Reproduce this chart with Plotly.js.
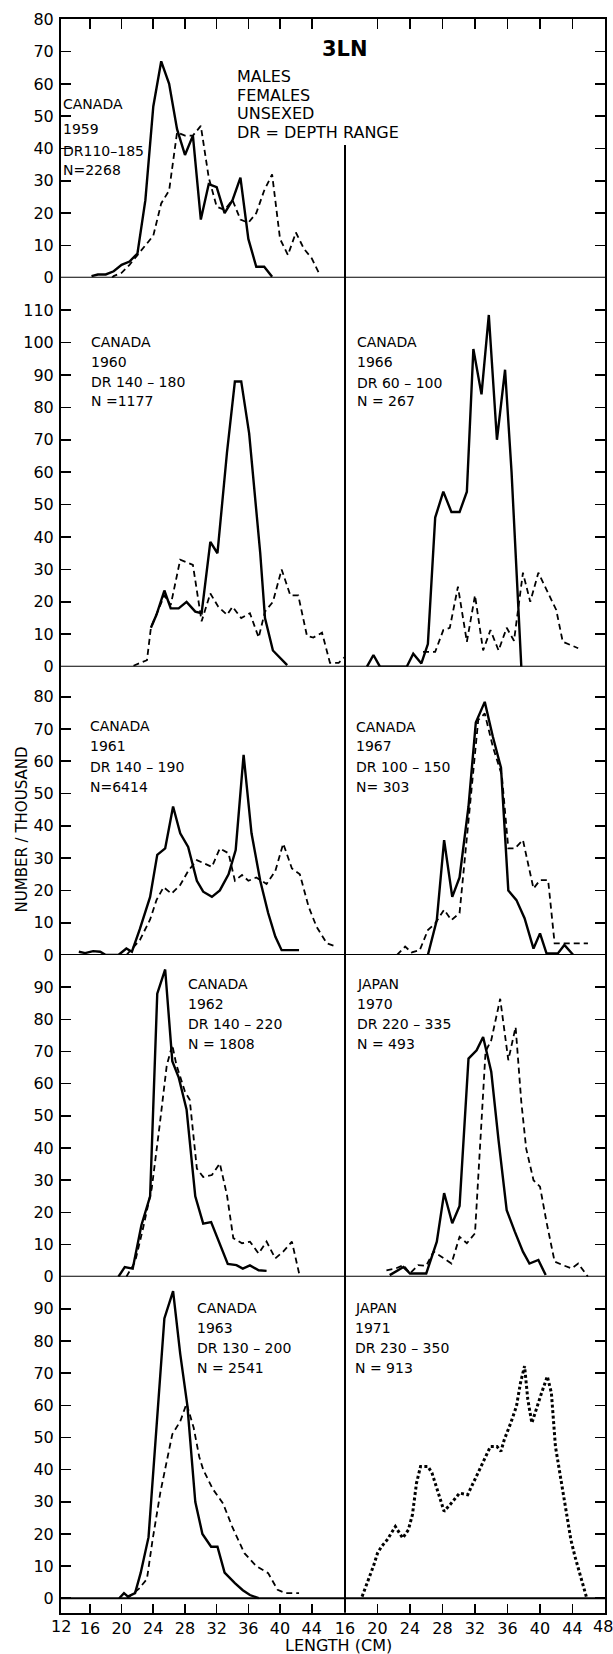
<!DOCTYPE html>
<html><head><meta charset="utf-8">
<script src="https://cdn.plot.ly/plotly-3.0.1.min.js"></script>
<style>html,body{margin:0;padding:0;background:#fff}#chart{width:613px;height:1654px}</style>
</head><body><div id="chart"></div>
<script>
// ---------- DATA (length in cm, number per thousand) ----------
// 1959 Canada (left, row 1)
const L_1959_m = [16.2,17,18,19,20,21,22,23,24,25,26,27,28,29,30,31,32,33,34,35,36,37,38,39];
const N_1959_m = [0.5,1,1,2,4,5,7.5,24,53,67,60,46,38,44,18,29,28,20,24,31,12,3.4,3.4,0.3];
const L_1959_f = [18.8,19,20,21,22,23,24,25,26,27,28,29,30,31,32,33,34,35,36,37,38,39,40,41,42,43,44,45];
const N_1959_f = [0,0.5,1.5,4,7,10,13,23,27,45,44,44,47,31,22,21,24,18,17,20,27,32,12,7,14,9,6,1];
// 1960 Canada (left, row 2)
const L_1960_m = [23.7,24.4,25.4,26.2,27.2,28.2,29.3,30.1,31.2,32.1,33.3,34.3,35.1,36.1,37.5,38.1,39.1,40.9];
const N_1960_m = [12,16,23.5,18,18,20,17,16.5,38.5,35,66,88,88,72,35,15,5,0.5];
const L_1960_f = [21.5,23.2,23.7,24.4,25.4,26.2,27.4,29,30.1,31.2,32.2,33.3,34,35.1,36.2,37.3,38.1,39.1,40.2,41.3,42.3,43.4,44.2,45.3,46.3,47.4,48.2];
const N_1960_f = [0.3,2,12,16,22,19,33,31.4,14,22.6,18.5,16,18.5,15,16.5,9,17,20,30,22,22,9.5,9,10.5,1.2,1.2,3];
// 1966 Canada (right, row 2)
const L_1966_m = [18.7,19.5,20.3,23.6,24.4,25.4,26.2,27.1,28.1,29.1,30.1,31,31.8,32.8,33.7,34.7,35.7,36.5,37.7];
const N_1966_m = [0,3.6,0,0,4,1,7,46,54,47.7,47.7,54,98,84,108.5,70,91.6,60,0];
const L_1966_f = [25.6,27.1,28.1,28.9,29.9,31,32,33,33.9,34.9,35.9,36.8,37.9,38.8,39.8,40.8,42,42.8,44.7];
const N_1966_f = [4.6,4.6,11.3,12,24.7,7.7,22,5,11.3,5,12,8,29,20,29,23.7,17.5,7.7,5.7];
// 1961 Canada (left, row 3)
const L_1961_m = [14.6,15.4,16.4,17.3,18,19.6,20.6,21.3,22.3,23.6,24.5,25.5,26.5,27.4,28.4,29.5,30.3,31.4,32.4,33.5,34.4,35.4,36.4,37.5,38.5,39.4,40.2,42.4];
const N_1961_m = [1,0.6,1.2,1,0,0,2,1,8,18,31,33,46,37.7,33.5,23,19.6,18,20,25,32.5,62,37.7,23,13,5.7,1.5,1.5];
const L_1961_f = [20.6,22.3,23.6,24.4,25.3,26.3,27.4,28.4,29.5,31.4,32.4,33.5,34.3,35.2,36,37,38.3,39.4,40.4,41.5,42.5,43.6,44.6,45.9,47.1];
const N_1961_f = [0,4.6,11,17,21,19,21.7,26,29.4,27.3,33,31.5,23,24.8,23,24,22,26,34.5,26.8,25,15,8.8,3.6,2.6];
// 1967 Canada (right, row 3)
const L_1967_m = [26.2,27.3,28.2,29.2,30.1,31.2,32.1,33.2,34.2,35.2,36.1,37.1,38.1,39.2,40,40.8,42.2,43,44.1];
const N_1967_m = [0,10.8,35.6,18,24,46,72,78.4,67.6,58,20,17,11.4,2,6.7,0.5,0.5,3.1,0];
const L_1967_f = [22.4,23.4,24.2,25.2,26.2,27.1,28.2,29.1,30.1,31.2,32.4,33.2,34.2,35.3,36.1,36.9,37.9,39.2,40,41,41.8,45.9];
const N_1967_f = [0,2.6,0.8,1.5,7.7,9.8,14,10.8,13,40.8,72.8,74.8,64.5,55.7,33,33,35.6,20.6,23.2,23.2,3.6,3.6];
// 1962 Canada (left, row 4)
const L_1962_m = [19.6,20.4,21.4,22.5,23.6,24.5,25.5,26.4,27.2,28.2,29.3,30.3,31.3,32.4,33.4,34.5,35.3,36.2,37.3,38.3];
const N_1962_m = [0,3,2.5,16,25,88,95.5,67,62,52,25,16.5,17,10,4,3.6,2.5,3.5,2,1.8];
const L_1962_f = [20.6,21.7,22.7,23.8,24.8,25.7,26.4,26.9,28,28.6,29.5,30.3,31.4,32.4,33.3,34.1,35.2,36.2,37.3,38.3,39.4,40.4,41.5,42.5];
const N_1962_f = [0,4.6,15,27.4,47,65.7,72,66,57.5,55,33.6,31,31.6,35.2,25.4,12,10.4,10.9,7.2,10.9,5.7,7.8,10.9,0];
// 1970 Japan (right, row 4)
const L_1970_m = [21.5,23.2,24,26,27.3,28.2,29.2,30.1,31.2,32.2,33,34,34.9,35.9,36.9,37.9,38.7,39.8,40.7];
const N_1970_m = [0.5,3,1,1,10.9,26,16.6,22,67.8,70.4,74.5,63.7,42.4,20.7,14,7.8,4.1,5.2,0.5];
const L_1970_f = [21.1,22.2,23.2,24,25,26,26.9,28.1,29.1,30.1,31,32,33.3,34,35.1,36.1,37,37.7,38.3,39.2,40,40.8,41.8,42.8,43.9,44.7,45.9];
const N_1970_f = [2,2.5,3.6,1,3.6,3.4,7.8,5.7,4.1,12.4,10.4,13.5,70,73.5,86.4,67.3,77.6,54.3,39.8,30,28,17,4.7,3.6,2.6,4.1,0];
// 1963 Canada (left, row 5)
const L_1963_m = [19.7,20.3,20.8,21.7,22.4,23.4,25.4,26.5,27.4,28.3,29.3,30.2,31.3,32.1,33,34.3,35.3,36.2,37.3];
const N_1963_m = [0,1.6,0.5,1.6,7.8,19,87,95.5,76,60,30,20,16,16,8,4.7,2.5,1,0];
const L_1963_f = [20.7,22.2,23.2,23.9,24.9,26.4,27.4,28.2,29.1,29.8,30.3,31.5,32.8,34,35.5,37,38.5,39.7,40.7,42.4];
const N_1963_f = [0,3,6,18,33,51,55,60.5,53,44,40,34,29.5,22,14,10,7.8,2.6,1.6,1.6];
// 1971 Japan (right, row 5) unsexed
const L_1971_u = [18.1,18.5,19,19.5,20,20.5,21.2,22.2,23.1,23.8,24.3,24.8,25.3,26.2,26.7,27.2,27.7,28.2,28.9,30.1,31.1,32,33,33.9,34.7,35.2,35.6,36.4,37.1,37.6,38.1,38.5,39,39.5,40.2,40.9,41.4,41.9,42.6,43.1,43.8,44.3,45,45.7];
const N_1971_u = [0.5,3.1,6.2,10,14,16.1,18.2,22.3,18.7,21.3,26,35.8,41,41,39,35,31,27,29,32.7,32.2,36.9,42,47.2,47.2,45.7,49.3,54.5,59.7,67,72.2,61.8,54.5,58.7,63.9,69,63.9,47.2,36.9,29.6,18.2,13,6.7,0.5];

// tick values / labels
const yTicks = [[0,10,20,30,40,50,60,70,80],[0,10,20,30,40,50,60,70,80,90,100,110],[0,10,20,30,40,50,60,70,80],[0,10,20,30,40,50,60,70,80,90],[0,10,20,30,40,50,60,70,80,90]];
const xTicksLeft = [16,20,24,28,32,36,40,44];
const xTicksRight = [16,20,24,28,32,36,40,44];
const xTopRight = [20,24,28,32,36,40,44];

// panel texts
const txt1959 = ["CANADA","1959","DR110–185","N=2268"];
const txt1960 = ["CANADA","1960","DR 140 – 180","N =1177"];
const txt1966 = ["CANADA","1966","DR 60 – 100","N = 267"];
const txt1961 = ["CANADA","1961","DR 140 – 190","N=6414"];
const txt1967 = ["CANADA","1967","DR 100 – 150","N= 303"];
const txt1962 = ["CANADA","1962","DR 140 – 220","N = 1808"];
const txt1970 = ["JAPAN","1970","DR 220 – 335","N = 493"];
const txt1963 = ["CANADA","1963","DR 130 – 200","N = 2541"];
const txt1971 = ["JAPAN","1971","DR 230 – 350","N = 913"];
const legendTxt = ["MALES","FEMALES","UNSEXED","DR = DEPTH RANGE"];

// ---------- LAYOUT ----------
const W = 613, H = 1654;
const px = x => x / W, py = y => 1 - y / H;
const FONT = 'DejaVu Sans, Verdana, sans-serif';
const nm = k => (k === 1 ? '' : String(k));

const rows = [
  {t:19.3,  b:277.7,  r:[0,80]},
  {t:277.7, b:666.7,  r:[0,120]},
  {t:666.7, b:955,    r:[0,89.3]},
  {t:955,   b:1276.7, r:[0,100]},
  {t:1276.7,b:1612.7, r:[-4.5,100]}
];
const XL = [61,345], XR = [345,605];

const layout = {
  width: W, height: H, margin:{l:0,r:0,t:0,b:0},
  paper_bgcolor:'#fff', plot_bgcolor:'rgba(0,0,0,0)',
  showlegend:false, font:{family:FONT, color:'#000', size:16},
  shapes:[], annotations:[]
};

rows.forEach((row, i) => {
  const li = 2*i+1, ri = 2*i+2;
  const ydom = [py(row.b), py(row.t)];
  const baseX = {showgrid:false, zeroline:false, fixedrange:true, color:'#000'};
  let xl = Object.assign({}, baseX, {domain:[px(XL[0]),px(XL[1])], range:[12.35,48.2], anchor:'y'+nm(li)});
  let xr = Object.assign({}, baseX, {domain:[px(XR[0]),px(XR[1])], range:[16,48], anchor:'y'+nm(ri)});
  if (i === 0) {
    const top = {side:'top', ticks:'inside', ticklen:10, tickwidth:1.6, tickcolor:'#000', showticklabels:false, showline:true, linewidth:2, linecolor:'#000', tickmode:'array'};
    Object.assign(xl, top, {tickvals:xTicksLeft});
    Object.assign(xr, top, {tickvals:xTopRight});
  } else if (i === 4) {
    const bot = {side:'bottom', ticks:'inside', ticklen:9, tickwidth:1.6, tickcolor:'#000', showline:true, linewidth:2, linecolor:'#000', tickmode:'array', tickfont:{family:FONT, size:16, color:'#000'}};
    Object.assign(xl, bot, {tickvals:xTicksLeft, ticktext:xTicksLeft.map(String)});
    Object.assign(xr, bot, {tickvals:xTicksRight, ticktext:xTicksRight.map(String)});
  } else {
    xl.visible = false; xr.visible = false;
  }
  layout['xaxis'+nm(li)] = xl;
  layout['xaxis'+nm(ri)] = xr;
  const baseY = {domain:ydom, range:row.r, showgrid:false, zeroline:false, fixedrange:true,
    ticks:'inside', ticklen:10, tickwidth:1.6, tickcolor:'#000', tickmode:'array', tickvals:yTicks[i],
    showline:true, linewidth:2, linecolor:'#000'};
  layout['yaxis'+nm(li)] = Object.assign({}, baseY, {anchor:'x'+nm(li), side:'left',
    ticktext:yTicks[i].map(String), tickfont:{family:FONT, size:16, color:'#000'}, ticklabelstandoff:2});
  layout['yaxis'+nm(ri)] = Object.assign({}, baseY, {anchor:'x'+nm(ri), side:'right', showticklabels:false});
  // zero baseline across both panels
  layout.shapes.push({type:'line', xref:'paper', yref:'y'+nm(li), x0:px(XL[0]), x1:px(XR[1]), y0:0, y1:0, line:{color:'#000', width:2}});
});
// middle divider
layout.shapes.push({type:'line', xref:'paper', yref:'paper', x0:px(345), x1:px(345), y0:py(1612.7), y1:py(145), line:{color:'#000', width:2}});

function addText(t, x, y, size, extra) {
  layout.annotations.push(Object.assign({text:t, xref:'paper', yref:'paper', x:px(x), y:py(y),
    xanchor:'left', yanchor:'middle', showarrow:false, borderpad:0,
    font:{family:FONT, size:size, color:'#000'}}, extra||{}));
}
function panelText(arr, x, ys) { arr.forEach((t,k) => addText(t, x, ys[k], 14)); }
panelText(txt1959, 61.5, [104,129,150.5,170.5]);
panelText(txt1960, 89.5, [341.7,361.7,381.7,401]);
panelText(txt1966, 355.5, [341.7,362.5,382.5,401.5]);
panelText(txt1961, 89, [725.7,746.5,766.5,786.7]);
panelText(txt1967, 354.5, [726.5,746,766.5,786.7]);
panelText(txt1962, 187, [984.3,1004.3,1024.3,1043.5]);
panelText(txt1970, 355.5, [984.3,1004.3,1024.3,1043.5]);
panelText(txt1963, 195.5, [1308.3,1328.3,1348.3,1368.3]);
panelText(txt1971, 354, [1308.3,1328.3,1348.3,1368.3]);
legendTxt.forEach((t,k) => addText(t, 235.5, [76.5,95,114,133][k], 16));
// title, axis titles, extra tick labels at the frame edges
addText('<b>3LN</b>', 345, 49, 21, {xanchor:'center'});
addText('NUMBER / THOUSAND', 21.5, 830, 15, {xanchor:'center', textangle:-90});
addText('LENGTH (CM)', 338, 1645, 16, {xanchor:'center'});
addText('12', 60.5, 1626.5, 16, {xanchor:'center'});
addText('48', 603, 1626.5, 16, {xanchor:'center'});

// ---------- TRACES ----------
const MALE = {color:'#000', width:2.4};
const FEMALE = {color:'#000', width:1.8, dash:'6px,4px'};
const UNSEXED = {color:'#000', width:3, dash:'3px,2.5px'};
function tr(L, N, k, style) {
  return {x:L, y:N, xaxis:'x'+nm(k), yaxis:'y'+nm(k), type:'scatter', mode:'lines', line:style, hoverinfo:'skip'};
}
const traces = [
  tr(L_1959_f, N_1959_f, 1, FEMALE), tr(L_1959_m, N_1959_m, 1, MALE),
  tr(L_1960_f, N_1960_f, 3, FEMALE), tr(L_1960_m, N_1960_m, 3, MALE),
  tr(L_1966_f, N_1966_f, 4, FEMALE), tr(L_1966_m, N_1966_m, 4, MALE),
  tr(L_1961_f, N_1961_f, 5, FEMALE), tr(L_1961_m, N_1961_m, 5, MALE),
  tr(L_1967_f, N_1967_f, 6, FEMALE), tr(L_1967_m, N_1967_m, 6, MALE),
  tr(L_1962_f, N_1962_f, 7, FEMALE), tr(L_1962_m, N_1962_m, 7, MALE),
  tr(L_1970_f, N_1970_f, 8, FEMALE), tr(L_1970_m, N_1970_m, 8, MALE),
  tr(L_1963_f, N_1963_f, 9, FEMALE), tr(L_1963_m, N_1963_m, 9, MALE),
  tr(L_1971_u, N_1971_u, 10, UNSEXED),
  // empty trace so the top-right subplot exists
  {x:[], y:[], xaxis:'x2', yaxis:'y2', type:'scatter', mode:'lines', hoverinfo:'skip'}
];

Plotly.newPlot('chart', traces, layout, {staticPlot:true, displayModeBar:false});
</script>
</body></html>
